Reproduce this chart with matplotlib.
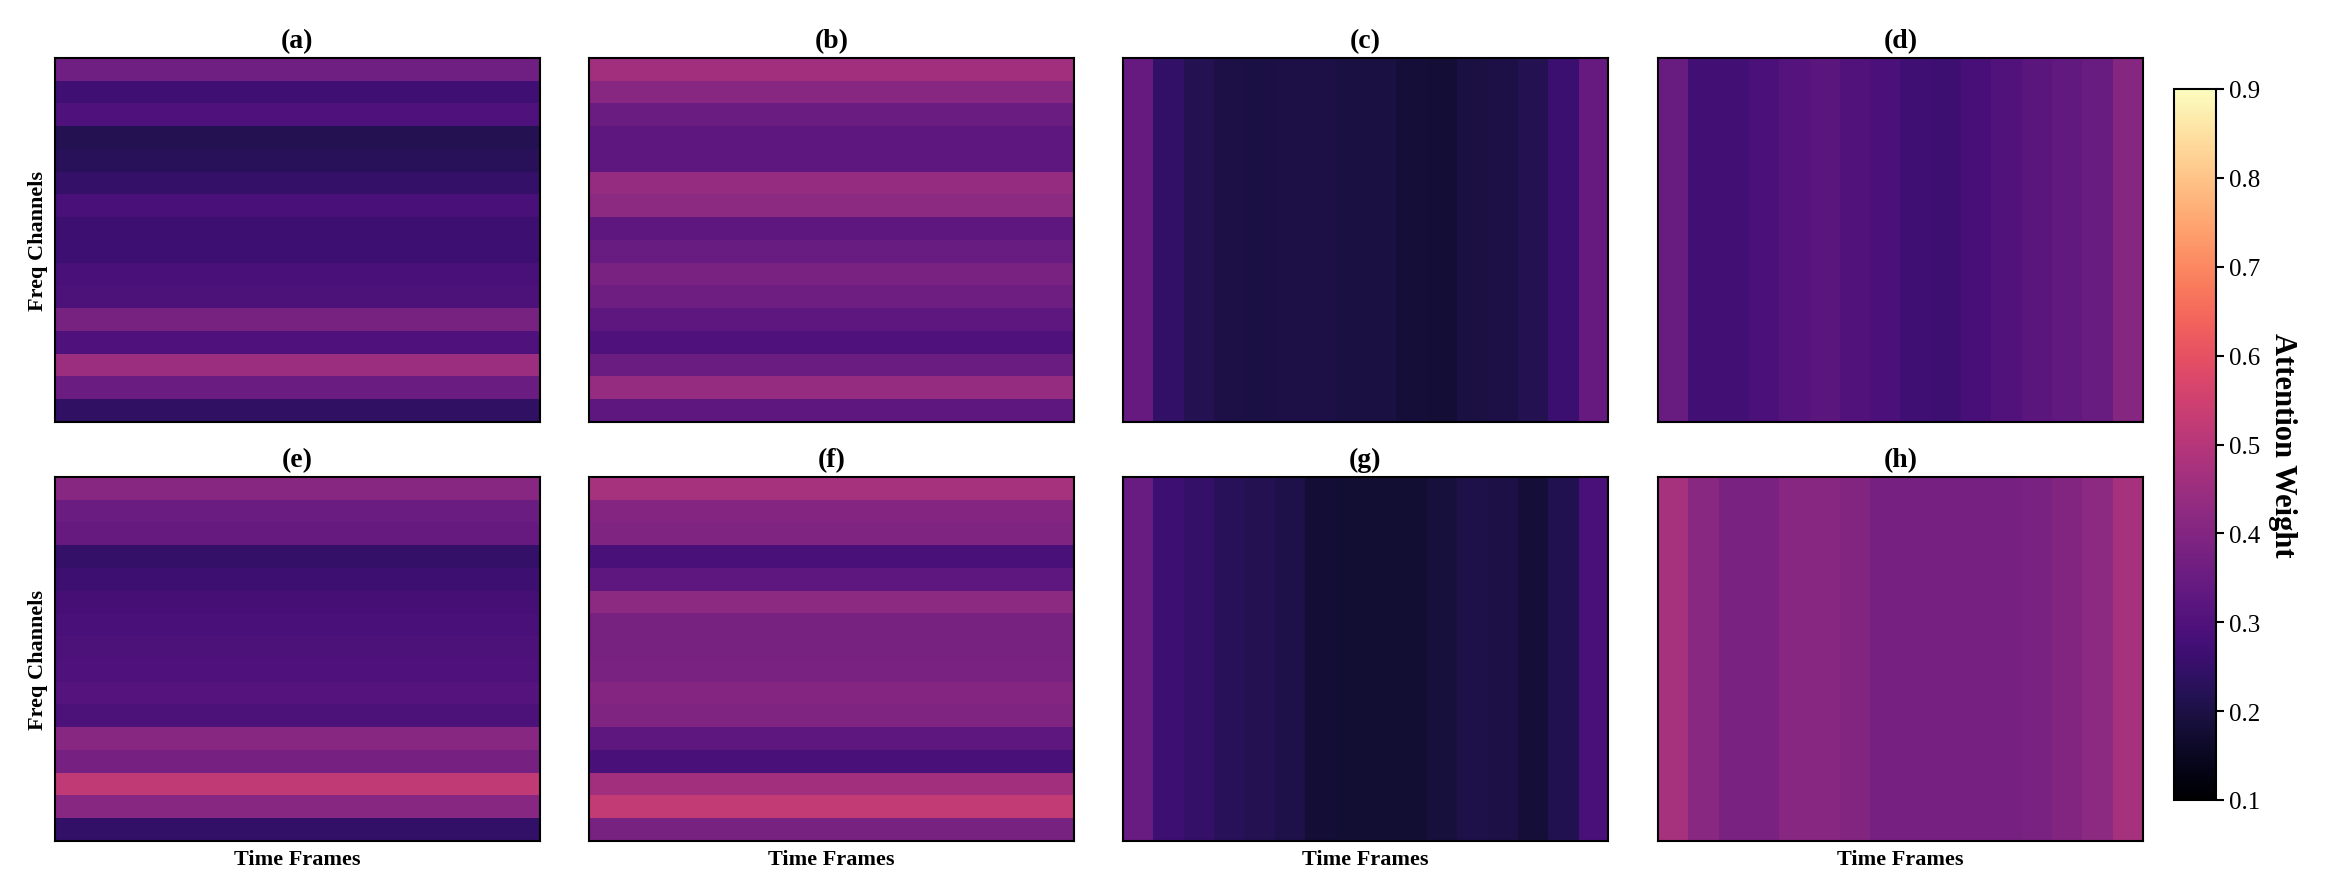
import numpy as np
import matplotlib
matplotlib.use("Agg")
import matplotlib.pyplot as plt

plt.rcParams['font.family'] = ['Liberation Serif', 'DejaVu Serif']

# panel labels
panel_labels = ['(a)', '(b)', '(c)', '(d)', '(e)', '(f)', '(g)', '(h)']

# frequency-attention profiles (one value per channel, top to bottom)
freq_a = [0.364, 0.27, 0.30, 0.216, 0.228, 0.248, 0.285, 0.264,
          0.266, 0.288, 0.296, 0.38, 0.30, 0.452, 0.354, 0.238]
freq_b = [0.46, 0.41, 0.355, 0.33, 0.33, 0.44, 0.42, 0.325,
          0.35, 0.385, 0.36, 0.325, 0.30, 0.355, 0.44, 0.325]
freq_e = [0.41, 0.355, 0.345, 0.25, 0.265, 0.28, 0.285, 0.295,
          0.30, 0.31, 0.295, 0.41, 0.375, 0.52, 0.41, 0.245]
freq_f = [0.47, 0.405, 0.395, 0.29, 0.33, 0.42, 0.38, 0.38,
          0.385, 0.405, 0.395, 0.325, 0.29, 0.46, 0.525, 0.38]

# time-attention profiles (one value per frame, left to right)
time_c = [0.344, 0.246, 0.216, 0.20, 0.198, 0.202, 0.202, 0.196,
          0.194, 0.184, 0.18, 0.196, 0.202, 0.216, 0.26, 0.344]
time_d = [0.352, 0.272, 0.272, 0.292, 0.312, 0.324, 0.305, 0.292,
          0.27, 0.264, 0.284, 0.305, 0.324, 0.336, 0.352, 0.408]
time_g = [0.35, 0.268, 0.248, 0.226, 0.218, 0.206, 0.18, 0.178,
          0.178, 0.178, 0.19, 0.204, 0.20, 0.182, 0.214, 0.29]
time_h = [0.47, 0.415, 0.385, 0.385, 0.41, 0.41, 0.40, 0.375,
          0.375, 0.375, 0.375, 0.378, 0.385, 0.40, 0.42, 0.47]

n_freq = 16
n_time = 16


def freq_map(v):
    return np.repeat(np.array(v)[:, None], n_time, axis=1)


def time_map(v):
    return np.repeat(np.array(v)[None, :], n_freq, axis=0)


maps = [freq_map(freq_a), freq_map(freq_b), time_map(time_c), time_map(time_d),
        freq_map(freq_e), freq_map(freq_f), time_map(time_g), time_map(time_h)]

W, H = 2326, 895
fig = plt.figure(figsize=(W / 100, H / 100), dpi=100)

col_left = [55, 589, 1123, 1658]
row_top = [59, 478]
ax_w, ax_h = 485, 364

im = None
for i, m in enumerate(maps):
    r, c = divmod(i, 4)
    ax = fig.add_axes([col_left[c] / W, 1 - (row_top[r] + ax_h) / H, ax_w / W, ax_h / H])
    im = ax.imshow(m, cmap='magma', vmin=0.1, vmax=0.9, aspect='auto',
                   interpolation='nearest')
    ax.set_xticks([])
    ax.set_yticks([])
    for s in ax.spines.values():
        s.set_linewidth(1.5)
    ax.set_title(panel_labels[i], fontsize=20, fontweight='bold', pad=8)
    if c == 0:
        ax.set_ylabel('Freq Channels', fontsize=16, fontweight='bold', labelpad=5)
    if r == 1:
        ax.set_xlabel('Time Frames', fontsize=16, fontweight='bold', labelpad=6)

cax = fig.add_axes([2174 / W, 1 - 801 / H, 42 / W, (801 - 90) / H])
cb = fig.colorbar(im, cax=cax, ticks=np.arange(0.1, 0.91, 0.1))
cb.ax.set_yticklabels([f'{t:.1f}' for t in np.arange(0.1, 0.91, 0.1)])
cb.ax.tick_params(labelsize=18, width=1.5, length=6)
cb.outline.set_linewidth(1.5)
cb.set_label('Attention Weight', fontsize=22, fontweight='bold', rotation=270, labelpad=26)

fig.savefig('out.png', dpi=100)
